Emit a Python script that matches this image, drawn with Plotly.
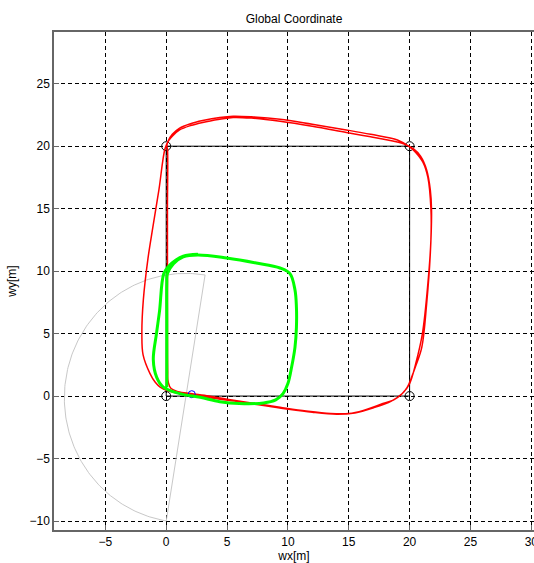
import numpy as np
import plotly.graph_objects as go

# ---------------- data ----------------
# reference square route (waypoints)
route_x = [0, 20, 20, 0, 0]
route_y = [0, 0, 20, 20, 0]
corner_x = [0, 20, 20, 0]
corner_y = [0, 0, 20, 20]

# red trajectory (two laps)
red_x = [0.05, 0.1, 0.1, 0.1, 0.1, 0.12, 0.15, 0.4, 1.0, 2.0, 3.5, 5.0, 7.0, 9.35, 11.5, 13.5, 15.0,
         16.2, 17.8, 18.7, 19.3, 19.8, 20.2, 20.5, 21.0, 21.4, 21.7, 21.8, 21.7, 21.4, 20.9, 20.3,
         19.5, 18.9, 16.8, 14.8, 12.0, 9.35, 7.0, 5.5, 4.4, 3.0, 2.0, 1.1, 0.5, 0.17, -0.1,
         -0.6, -1.1, -1.5, -1.88, -2.0, -1.9, -1.33, -0.9, -0.5, 0.2, 1.13, 2.5,
         4.0, 6.0, 8.0, 10.0, 12.0, 14.0, 15.5, 17.0, 18.5, 19.4, 20.0, 20.5, 21.05, 21.5, 21.75,
         21.75, 21.5, 21.1, 20.5, 20.0, 19.0, 16.8, 14.8, 12.0, 9.35, 7.0, 5.5, 4.4, 3.0, 2.0,
         1.1, 0.5, 0.15, 0.05]
red_y = [20.0, 19.8, 15.0, 10.0, 5.0, 2.0, 1.2, 0.6, 0.35, 0.2, 0.0, -0.25, -0.55, -0.9, -1.2, -1.4,
         -1.4, -1.15, -0.6, -0.3, 0.1, 0.7, 1.6, 2.4, 3.9, 7.4, 11.4, 14.9, 16.5, 18.1, 19.2, 19.8,
         20.2, 20.35, 20.75, 21.1, 21.6, 22.0, 22.25, 22.3, 22.15, 21.9, 21.65, 21.3, 20.8, 20.4, 19.8,
         16.5, 13.5, 11.0, 7.7, 5.0, 3.3, 1.8, 1.1, 0.72, 0.4, 0.2, 0.05,
         -0.2, -0.45, -0.75, -1.05, -1.3, -1.45, -1.35, -0.95, -0.4, 0.2, 1.0, 2.6, 5.0, 9.0, 12.5,
         15.0, 17.5, 18.7, 19.5, 19.95, 20.5, 20.95, 21.3, 21.75, 22.15, 22.35, 22.4, 22.3, 22.05, 21.8,
         21.45, 20.95, 20.4, 20.0]

# green trajectory
green_x = [0.05, 0.05, 0.05, 0.05, 0.1, 0.6, 1.4, 2.6, 4.97, 7.4, 9.35, 10.17, 10.58, 10.7, 10.7,
           10.58, 10.3, 10.0, 9.6, 9.0, 8.0, 6.0, 4.4, 2.8, 1.1, -0.24, -0.78, -1.06, -0.8, -0.55,
           -0.2, 0.2, 0.8, 1.4, 2.6]
green_y = [0.7, 3.0, 6.0, 9.0, 9.8, 10.6, 11.15, 11.3, 11.05, 10.65, 10.25, 9.8, 8.5, 7.1, 5.5,
           3.9, 2.3, 1.0, 0.2, -0.3, -0.55, -0.6, -0.45, -0.1, 0.2, 0.72, 1.5, 2.9, 5.0, 6.8,
           9.8, 10.4, 10.9, 11.2, 11.35]

# robot position and sensor range (semicircle)
robot_x = [2.1]
robot_y = [0.15]
sensor_cx = 1.6
sensor_cy = -0.15
sensor_r = 9.97
sensor_heading_deg = 170.8

# ticks
x_ticks = [-5, 0, 5, 10, 15, 20, 25, 30]
y_ticks = [-10, -5, 0, 5, 10, 15, 20, 25]

# --------------- figure ---------------
ang = np.radians(np.linspace(sensor_heading_deg - 90, sensor_heading_deg + 90, 181))
sx = list(sensor_cx + sensor_r * np.cos(ang))
sy = list(sensor_cy + sensor_r * np.sin(ang))
sx.append(sx[0])
sy.append(sy[0])

FONT = "Liberation Sans, Arial, sans-serif"

fig = go.Figure()
fig.add_trace(go.Scatter(x=sx, y=sy, mode="lines", line=dict(color="#c8c8c8", width=1),
                         hoverinfo="skip", showlegend=False))
fig.add_trace(go.Scatter(x=route_x, y=route_y, mode="lines", line=dict(color="black", width=1),
                         showlegend=False))
fig.add_trace(go.Scatter(x=corner_x, y=corner_y, mode="markers",
                         marker=dict(symbol="circle-open", size=9, color="black", line=dict(width=1)),
                         showlegend=False))
fig.add_trace(go.Scatter(x=red_x, y=red_y, mode="lines", line=dict(color="#ff0000", width=1.5),
                         line_shape="spline", showlegend=False))
fig.add_trace(go.Scatter(x=robot_x, y=robot_y, mode="markers",
                         marker=dict(symbol="circle-open", size=7, color="#0000ff", line=dict(width=1)),
                         showlegend=False))
fig.add_trace(go.Scatter(x=green_x, y=green_y, mode="lines", line=dict(color="#00ff00", width=3),
                         line_shape="spline", showlegend=False))

axis_common = dict(
    showgrid=True, gridcolor="black", gridwidth=1, griddash="4px,3px",
    zeroline=False, showline=True, linecolor="#666666", linewidth=1.5,
    ticks="inside", ticklen=5, tickcolor="#666666",
    tickfont=dict(family=FONT, size=12, color="black"),
    ticklabeloverflow="allow", automargin=False,
)

fig.update_layout(
    width=534, height=563,
    margin=dict(l=54, r=0, t=32, b=33),
    paper_bgcolor="white", plot_bgcolor="white",
    title=dict(text="Global Coordinate", x=0.5, xref="paper", xanchor="center",
               y=1 - 18.7 / 563, yref="container", yanchor="middle",
               font=dict(family=FONT, size=12, color="black")),
    xaxis=dict(range=[-9.22, 30.22], tickvals=x_ticks,
               ticktext=[str(v).replace("-", "\u2212") for v in x_ticks],
               title=dict(text="wx[m]", standoff=7, font=dict(family=FONT, size=12, color="black")),
               mirror=True, **axis_common),
    yaxis=dict(range=[-10.72, 29.14], tickvals=y_ticks,
               ticktext=[str(v).replace("-", "\u2212") for v in y_ticks],
               title=dict(text="wy[m]", standoff=10, font=dict(family=FONT, size=12, color="black")),
               mirror=False, **axis_common),
    showlegend=False,
)

fig.write_html("out.html", config={"displayModeBar": False},
               post_script="document.body.style.margin='0';document.body.style.overflow='hidden';")
